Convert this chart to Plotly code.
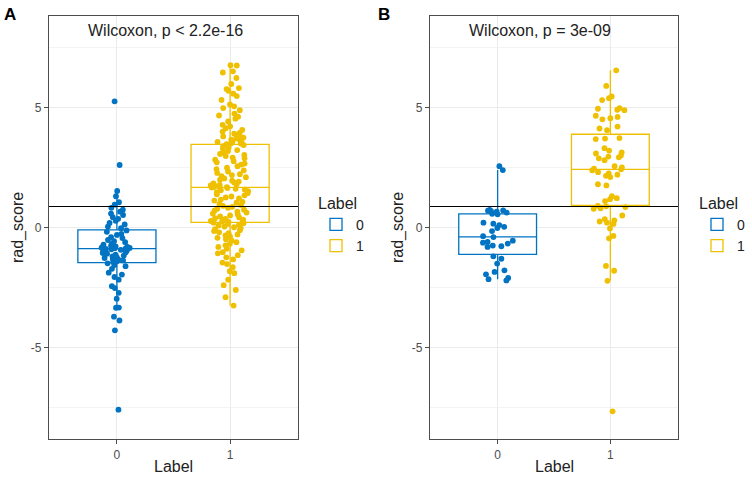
import plotly.graph_objects as go

# ---------------- data ----------------
categories = [0, 1]
tick_labels = ["0", "1"]
cutoff = 0.875

# Panel A (training) rad_score values per label
a_label0 = [5.25, 2.6, 1.52, 1.3, 1.05, 0.95, 0.82, 0.74, 0.66, 0.58, 0.52, 0.43, 0.36, 0.28, 0.19, 0.13, 0.04, -0.03,
            -0.12, -0.18, -0.27, -0.31, -0.4, -0.44, -0.52, -0.57, -0.61, -0.68, -0.71, -0.76, -0.79, -0.81, -0.84, -0.85, -0.86, -0.87,
            -0.89, -0.91, -0.93, -0.96, -0.99, -1.03, -1.06, -1.09, -1.13, -1.17, -1.2, -1.24, -1.27, -1.31, -1.34, -1.37, -1.41, -1.44,
            -1.49, -1.56, -1.61, -1.72, -1.88, -1.96, -2.06, -2.17, -2.44, -2.52, -2.72, -2.96, -3.33, -3.34, -3.71, -3.87, -4.28, -7.58]
a_label1 = [6.75, 6.74, 6.5, 6.45, 6.22, 5.97, 5.8, 5.76, 5.69, 5.57, 5.47, 5.31, 5.12, 5.04, 4.97, 4.88, 4.74, 4.66, 4.61, 4.53,
            4.41, 4.27, 4.21, 4.13, 4.06, 3.99, 3.94, 3.9, 3.84, 3.79, 3.74, 3.71, 3.66, 3.62, 3.58, 3.56, 3.53, 3.5, 3.49, 3.47,
            3.43, 3.38, 3.33, 3.27, 3.22, 3.18, 3.11, 3.06, 3.02, 2.97, 2.91, 2.88, 2.82, 2.76, 2.71, 2.66, 2.62, 2.55, 2.49, 2.43,
            2.38, 2.33, 2.27, 2.22, 2.18, 2.14, 2.09, 2.04, 1.99, 1.95, 1.91, 1.87, 1.84, 1.8, 1.77, 1.75, 1.73, 1.71, 1.69, 1.68,
            1.66, 1.64, 1.61, 1.58, 1.55, 1.51, 1.47, 1.43, 1.38, 1.34, 1.29, 1.25, 1.21, 1.16, 1.12, 1.07, 1.03, 0.98, 0.94, 0.9,
            0.86, 0.82, 0.78, 0.74, 0.7, 0.66, 0.62, 0.58, 0.54, 0.5, 0.46, 0.42, 0.39, 0.36, 0.33, 0.3, 0.27, 0.25, 0.23, 0.22,
            0.2, 0.18, 0.15, 0.11, 0.08, 0.04, 0.01, -0.03, -0.07, -0.11, -0.15, -0.2, -0.24, -0.29, -0.33, -0.38, -0.43, -0.49,
            -0.55, -0.61, -0.68, -0.74, -0.81, -0.88, -0.95, -1.03, -1.08, -1.15, -1.24, -1.33, -1.46, -1.52, -1.65, -1.82, -1.9,
            -2.17, -2.4, -2.6, -2.9, -3.25]

# Panel B (validation)
b_label0 = [2.55, 2.39, 0.73, 0.71, 0.7, 0.68, 0.66, 0.62, 0.57, 0.55, 0.2, 0.16, 0.1, 0.03, -0.02, -0.15, -0.36, -0.4,
            -0.55, -0.6, -0.63, -0.67, -0.75, -0.78, -0.81, -1.2, -1.3, -1.5, -1.78, -1.85, -1.95, -2.1, -2.15, -2.2]
b_label1 = [6.54, 5.89, 5.45, 5.38, 5.3, 4.97, 4.94, 4.9, 4.88, 4.65, 4.6, 4.55, 4.5, 4.2, 4.12, 4.05, 3.72, 3.7, 3.68,
            3.3, 3.2, 3.12, 3.08, 3.0, 2.95, 2.92, 2.88, 2.8, 2.55, 2.5, 2.45, 2.42, 2.38, 2.3, 2.25, 2.2, 2.15, 2.1,
            1.8, 1.75, 1.3, 1.22, 1.18, 1.1, 0.9, 0.88, 0.85, 0.8, 0.78, 0.5, 0.35, 0.3, 0.25, 0.2, 0.15, -0.04,
            -0.35, -0.45, -1.6, -1.8, -2.22, -7.65]

# box statistics (q1, median, q3, lower whisker, upper whisker)
a_stats = {0: [-1.46, -0.875, -0.1, -3.33, 1.54], 1: [0.21, 1.67, 3.46, -3.25, 6.75]}
b_stats = {0: [-1.12, -0.39, 0.57, -2.15, 2.39], 1: [0.92, 2.42, 3.88, -2.2, 6.54]}

a_test = "Wilcoxon, p < 2.2e-16"
b_test = "Wilcoxon, p = 3e-09"
x_title = "Label"
y_title = "rad_score"

colors = {0: "#0073C2", 1: "#EFC000"}

# ---------------- figure ----------------
fig = go.Figure()
FONT = "Liberation Sans, Arial, sans-serif"
BOXW = 0.69
W, H = 752, 477

panels = [
    ("x", "y", "legend", {0: a_label0, 1: a_label1}, a_stats),
    ("x2", "y2", "legend2", {0: b_label0, 1: b_label1}, b_stats),
]
for xa, ya, lg, vals, stats in panels:
    for c in categories:
        q1, med, q3, lo, hi = stats[c]
        fig.add_trace(go.Box(
            x=[c], q1=[q1], median=[med], q3=[q3], lowerfence=[lo], upperfence=[hi],
            width=BOXW, whiskerwidth=0, boxpoints=False,
            fillcolor="white", line=dict(color=colors[c], width=1.3),
            name=str(c), legend=lg, showlegend=True,
            xaxis=xa, yaxis=ya, hoverinfo="skip"))
    for c in categories:
        fig.add_trace(go.Box(
            x0=c, y=vals[c], width=BOXW, boxpoints="all", jitter=0.5, pointpos=0,
            fillcolor="rgba(0,0,0,0)", line=dict(color="rgba(0,0,0,0)", width=0),
            marker=dict(color=colors[c], size=5.8, line=dict(width=0)),
            name=str(c), showlegend=False, legend=lg,
            xaxis=xa, yaxis=ya, hoverinfo="skip"))

axis_common = dict(
    showline=True, mirror=True, linecolor="#4d4d4d", linewidth=1.2,
    ticks="outside", ticklen=4, tickcolor="#4d4d4d", tickwidth=1,
    showgrid=True, gridcolor="#EBEBEB", gridwidth=1, zeroline=False, automargin=False,
    tickfont=dict(family=FONT, size=12, color="#4d4d4d"),
)
xcommon = dict(axis_common, range=[-0.6, 1.6], tickvals=categories, ticktext=tick_labels)
ycommon = dict(axis_common, range=[-8.8, 8.8], tickvals=[-5, 0, 5], ticktext=["-5", "0", "5"],
               minor=dict(tickvals=[-7.5, -2.5, 2.5, 7.5], showgrid=True, gridcolor="#F4F4F4", ticklen=0))

legend_common = dict(
    yanchor="top", xanchor="left", y=(H - 188) / H,
    title=dict(text="Label", font=dict(family=FONT, size=16, color="#222")),
    font=dict(family=FONT, size=14, color="#222"), bgcolor="rgba(0,0,0,0)",
    tracegroupgap=5, itemwidth=30,
)

fig.update_layout(
    width=W, height=H, margin=dict(l=0, r=0, t=0, b=0),
    paper_bgcolor="white", plot_bgcolor="white",
    boxmode="overlay",
    xaxis=dict(xcommon, domain=[49 / W, 298 / W], anchor="y"),
    yaxis=dict(ycommon, domain=[(H - 439) / H, (H - 16) / H], anchor="x"),
    xaxis2=dict(xcommon, domain=[430 / W, 678 / W], anchor="y2"),
    yaxis2=dict(ycommon, domain=[(H - 439) / H, (H - 16) / H], anchor="x2"),
    legend=dict(legend_common, x=316 / W),
    legend2=dict(legend_common, x=697 / W),
    font=dict(family=FONT),
)

for xr, yr in [("x", "y"), ("x2", "y2")]:
    fig.add_shape(type="line", xref=f"{xr} domain", yref=yr, x0=0, x1=1, y0=cutoff, y1=cutoff,
                  line=dict(color="black", width=1.1), layer="above")

fig.add_annotation(x=0.43, y=8.2, xref="x", yref="y", text=a_test, showarrow=False,
                   font=dict(family=FONT, size=16, color="#222"))
fig.add_annotation(x=0.38, y=8.2, xref="x2", yref="y2", text=b_test, showarrow=False,
                   font=dict(family=FONT, size=16, color="#222"))

# axis titles
for cx, ry in [(173, 18), (554, 398)]:
    fig.add_annotation(x=cx / W, y=(H - 466) / H, xref="paper", yref="paper", text=x_title, showarrow=False,
                       xanchor="center", yanchor="middle", font=dict(family=FONT, size=16, color="#222"))
    fig.add_annotation(x=ry / W, y=(H - 228) / H, xref="paper", yref="paper", text=y_title, showarrow=False,
                       textangle=-90, xanchor="center", yanchor="middle",
                       font=dict(family=FONT, size=16, color="#222"))

fig.add_annotation(x=2 / W, y=(H - 3) / H, xref="paper", yref="paper", text="<b>A</b>", showarrow=False,
                   xanchor="left", yanchor="top", font=dict(family=FONT, size=17, color="black"))
fig.add_annotation(x=376 / W, y=(H - 3) / H, xref="paper", yref="paper", text="<b>B</b>", showarrow=False,
                   xanchor="left", yanchor="top", font=dict(family=FONT, size=17, color="black"))

fig.write_html("out.html", config={"displayModeBar": False},
               post_script="document.body.style.margin='0';document.body.style.padding='0';")
